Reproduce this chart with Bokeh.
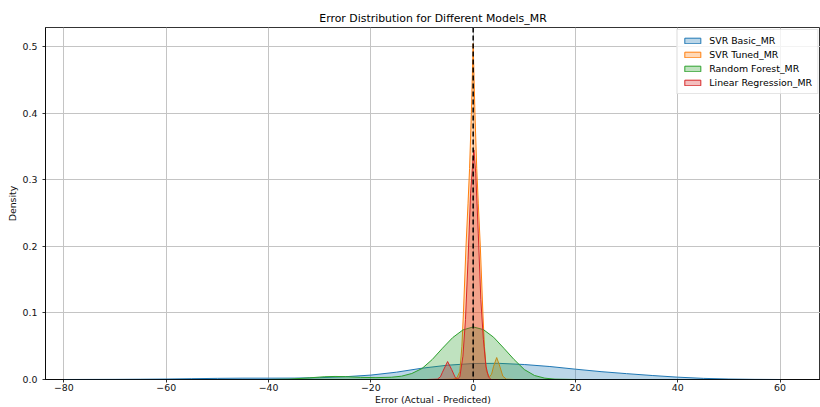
from bokeh.plotting import figure
from bokeh.models import Range1d, FixedTicker, Span
from bokeh.embed import file_html
from bokeh.resources import INLINE

# ---- data ----
svr_basic_x = [-80, -75, -70, -65, -60, -55, -50, -45, -40, -35, -30, -25, -20, -15,
               -10, -5, 0, 5, 10, 15, 20, 25, 30, 35, 40, 45, 50, 55, 60]
svr_basic_y = [0.0000, 0.0001, 0.0002, 0.0004, 0.0007, 0.0012, 0.0017, 0.0020, 0.0020,
               0.0021, 0.0027, 0.0042, 0.0066, 0.0110, 0.0170, 0.0215, 0.0240, 0.0243,
               0.0225, 0.0195, 0.0155, 0.0118, 0.0088, 0.0060, 0.0035, 0.0017, 0.0007,
               0.0002, 0.0000]

svr_tuned_x = [-6, -4, -3.2, -2.6, -2.2, -1.9, -1.4, -1.0, -0.7, -0.35, 0, 0.35, 0.7, 1.0,
               1.4, 1.9, 2.2, 2.6, 3.2, 3.6, 4.0, 4.6, 5.2, 5.8, 6.5, 8]
svr_tuned_y = [0.0, 0.0005, 0.002, 0.012, 0.050, 0.100, 0.200, 0.265, 0.317, 0.400, 0.505,
               0.400, 0.317, 0.265, 0.200, 0.100, 0.050, 0.012, 0.004, 0.008, 0.020, 0.033,
               0.020, 0.005, 0.0005, 0.0]

rf_x = [-40, -36, -32, -29, -27, -25, -22, -19, -16, -14, -12, -10, -8, -6, -4, -2, 0,
        2, 4, 6, 8, 10, 12, 14, 16, 20]
rf_y = [0.0, 0.0005, 0.0025, 0.0042, 0.0046, 0.0043, 0.0032, 0.0028, 0.0034, 0.0050,
        0.0090, 0.0165, 0.0300, 0.0470, 0.0630, 0.0745, 0.0790, 0.0750, 0.0635, 0.0470,
        0.0300, 0.0150, 0.0060, 0.0020, 0.0005, 0.0]

lr_x = [-9, -7, -6.4, -6, -5, -4.2, -3.5, -3.0, -2.6, -2.0, -1.5, -1.0, -0.5, 0.0, 0.15,
        0.5, 1.0, 1.5, 2.0, 2.5, 3.0, 3.5, 5]
lr_y = [0.0, 0.0005, 0.004, 0.011, 0.027, 0.015, 0.003, 0.001, 0.004, 0.035, 0.090,
        0.180, 0.280, 0.335, 0.345, 0.310, 0.220, 0.120, 0.060, 0.020, 0.004, 0.0, 0.0]

series_names = ["SVR Basic_MR", "SVR Tuned_MR", "Random Forest_MR", "Linear Regression_MR"]
series_colors = ["#1f77b4", "#ff7f0e", "#2ca02c", "#d62728"]
series_x = [svr_basic_x, svr_tuned_x, rf_x, lr_x]
series_y = [svr_basic_y, svr_tuned_y, rf_y, lr_y]

x_ticks = [-80, -60, -40, -20, 0, 20, 40, 60]
x_tick_labels = ["\u221280", "\u221260", "\u221240", "\u221220", "0", "20", "40", "60"]
y_ticks = [0.0, 0.1, 0.2, 0.3, 0.4, 0.5]
y_tick_labels = ["0.0", "0.1", "0.2", "0.3", "0.4", "0.5"]

title_text = "Error Distribution for Different Models_MR"
x_label = "Error (Actual - Predicted)"
y_label = "Density"

FONT = "DejaVu Sans"

p = figure(width=820, height=407, output_backend="svg", toolbar_location=None,
           x_range=Range1d(-83.6, 67.9), y_range=Range1d(0, 0.529),
           min_border_left=45, min_border_right=0, min_border_top=27, min_border_bottom=27)

p.title.text = title_text
p.title.text_font = FONT
p.title.text_font_size = "10.9px"
p.title.text_font_style = "normal"
p.title.text_color = "#000000"
p.title.align = "center"
p.title.offset = 14
p.title.standoff = 6

for xs, ys, c, n in zip(series_x, series_y, series_colors, series_names):
    p.patch(xs, ys, fill_color=c, fill_alpha=0.3, line_color=c, line_width=1.0,
            legend_label=n)

p.add_layout(Span(location=0, dimension="height", line_color="#000000",
                  line_width=1.5, line_dash="5 3"))

for ax in (p.xaxis[0], p.yaxis[0]):
    ax.major_label_text_font = FONT
    ax.major_label_text_font_size = "9.4px"
    ax.major_label_text_color = "#111111"
    ax.axis_label_text_font = FONT
    ax.axis_label_text_font_size = "9.4px"
    ax.axis_label_text_font_style = "normal"
    ax.axis_label_text_color = "#111111"
    ax.axis_line_color = "#000000"
    ax.axis_line_width = 0.8
    ax.major_tick_line_color = "#000000"
    ax.major_tick_line_width = 0.8
    ax.major_tick_out = 3
    ax.major_tick_in = 0
    ax.minor_tick_line_color = None

p.xaxis[0].ticker = FixedTicker(ticks=x_ticks)
p.xaxis[0].major_label_overrides = dict(zip(x_ticks, x_tick_labels))
p.xaxis[0].major_label_standoff = 1
p.xaxis[0].axis_label = x_label
p.xaxis[0].axis_label_standoff = 0

p.yaxis[0].ticker = FixedTicker(ticks=y_ticks)
p.yaxis[0].major_label_overrides = dict(zip(y_ticks, y_tick_labels))
p.yaxis[0].major_label_standoff = 5
p.yaxis[0].axis_label = y_label
p.yaxis[0].axis_label_standoff = 2

p.xgrid.grid_line_color = "#c4c4c4"
p.ygrid.grid_line_color = "#c4c4c4"
p.xgrid.grid_line_width = 1
p.ygrid.grid_line_width = 1
p.xgrid.ticker = FixedTicker(ticks=x_ticks)
p.ygrid.ticker = FixedTicker(ticks=y_ticks)

p.outline_line_color = "#000000"
p.outline_line_width = 0.8
p.background_fill_color = "#ffffff"
p.border_fill_color = "#ffffff"

lg = p.legend[0]
lg.location = "top_right"
lg.margin = 2
lg.padding = 5
lg.spacing = 3
lg.label_standoff = 7
lg.glyph_width = 20
lg.glyph_height = 7
lg.label_height = 10
lg.label_text_font = FONT
lg.label_text_font_size = "9.4px"
lg.label_text_color = "#000000"
lg.border_line_color = "#cccccc"
lg.border_line_width = 1
lg.background_fill_alpha = 0.8

open("out.html", "w").write(file_html(p, INLINE))
